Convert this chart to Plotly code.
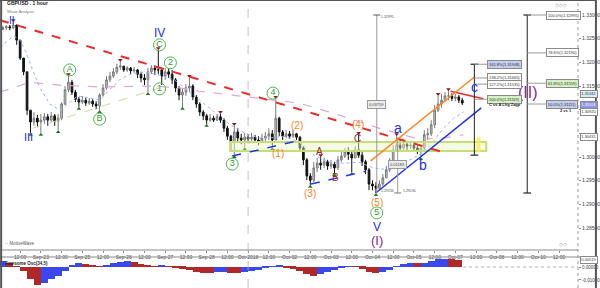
import plotly.graph_objects as go

# ---------------- data ----------------
hours = list(range(-22, 246, 2))          # 2-hour candles, hours from Sep-23 00:00
first_open = 1.3270
closes = [1.3273, 1.3275, 1.3273, 1.3279, 1.3247, 1.3209, 1.3180, 1.3099, 1.3074, 1.3082,
          1.3074, 1.3078, 1.3085, 1.3078, 1.3087, 1.3076, 1.3082, 1.3112, 1.3142, 1.3158,
          1.3137, 1.3122, 1.3116, 1.3120, 1.3114, 1.3118, 1.3112, 1.3108, 1.3131, 1.3146,
          1.3163, 1.3171, 1.3180, 1.3190, 1.3192, 1.3184, 1.3188, 1.3182, 1.3184, 1.3175,
          1.3167, 1.3163, 1.3180, 1.3188, 1.3184, 1.3184, 1.3171, 1.3180, 1.3175, 1.3163,
          1.3146, 1.3131, 1.3137, 1.3146, 1.3150, 1.3127, 1.3112, 1.3095, 1.3087, 1.3078,
          1.3082, 1.3078, 1.3085, 1.3078, 1.3061, 1.3044, 1.3032, 1.3053, 1.3040, 1.3036,
          1.3042, 1.3038, 1.3042, 1.3036, 1.3032, 1.3040, 1.3044, 1.3049, 1.3036, 1.3082,
          1.3053, 1.3044, 1.3049, 1.3044, 1.3049, 1.3042, 1.3019, 1.2994, 1.2960, 1.2951,
          1.2977, 1.2987, 1.2983, 1.2990, 1.2981, 1.2985, 1.2977, 1.2994, 1.3002, 1.3011,
          1.3006, 1.2998, 1.3015, 1.3004, 1.2990, 1.2973, 1.2943, 1.2939, 1.2934, 1.2943,
          1.2956, 1.2973, 1.2990, 1.3015, 1.3025, 1.3019, 1.3027, 1.3023, 1.3025, 1.3019,
          1.3015, 1.3019, 1.3047, 1.3049, 1.3068, 1.3099, 1.3112, 1.3120, 1.3129, 1.3129,
          1.3124, 1.3127, 1.3120, 1.3114]
highs = [1.3277, 1.3279, 1.3279, 1.3285, 1.3279, 1.3247, 1.3209, 1.3180, 1.3099, 1.3095,
         1.3089, 1.3091, 1.3093, 1.3091, 1.3095, 1.3091, 1.3091, 1.3116, 1.3150, 1.3171,
         1.3163, 1.3142, 1.3127, 1.3129, 1.3125, 1.3125, 1.3122, 1.3118, 1.3135, 1.3154,
         1.3171, 1.3180, 1.3188, 1.3197, 1.3201, 1.3192, 1.3192, 1.3190, 1.3190, 1.3186,
         1.3180, 1.3175, 1.3188, 1.3194, 1.3194, 1.3226, 1.3188, 1.3188, 1.3188, 1.3184,
         1.3167, 1.3150, 1.3146, 1.3154, 1.3167, 1.3154, 1.3131, 1.3116, 1.3099, 1.3091,
         1.3091, 1.3087, 1.3091, 1.3091, 1.3082, 1.3066, 1.3047, 1.3066, 1.3061, 1.3049,
         1.3051, 1.3049, 1.3051, 1.3047, 1.3044, 1.3049, 1.3053, 1.3061, 1.3057, 1.3123,
         1.3085, 1.3057, 1.3057, 1.3055, 1.3057, 1.3051, 1.3044, 1.3023, 1.2998, 1.2966,
         1.2990, 1.2998, 1.3000, 1.2998, 1.2994, 1.2994, 1.2990, 1.3002, 1.3015, 1.3019,
         1.3021, 1.3015, 1.3023, 1.3047, 1.3011, 1.2994, 1.2977, 1.2951, 1.2947, 1.2951,
         1.2964, 1.2981, 1.2998, 1.3025, 1.3044, 1.3036, 1.3036, 1.3034, 1.3034, 1.3030,
         1.3025, 1.3027, 1.3057, 1.3061, 1.3078, 1.3110, 1.3129, 1.3133, 1.3137, 1.3139,
         1.3135, 1.3133, 1.3131, 1.3125]
lows = [1.3268, 1.3268, 1.3268, 1.3270, 1.3237, 1.3205, 1.3173, 1.3089, 1.3051, 1.3066,
        1.3063, 1.3051, 1.3070, 1.3066, 1.3074, 1.3066, 1.3057, 1.3078, 1.3110, 1.3137,
        1.3131, 1.3116, 1.3106, 1.3112, 1.3108, 1.3110, 1.3106, 1.3101, 1.3099, 1.3129,
        1.3142, 1.3158, 1.3167, 1.3175, 1.3184, 1.3180, 1.3180, 1.3175, 1.3178, 1.3167,
        1.3158, 1.3152, 1.3137, 1.3175, 1.3173, 1.3175, 1.3152, 1.3163, 1.3167, 1.3154,
        1.3137, 1.3120, 1.3106, 1.3129, 1.3137, 1.3120, 1.3104, 1.3087, 1.3078, 1.3070,
        1.3074, 1.3074, 1.3076, 1.3072, 1.3053, 1.3036, 1.3015, 1.3004, 1.3032, 1.3027,
        1.3021, 1.3030, 1.3034, 1.3030, 1.3025, 1.3030, 1.3034, 1.3036, 1.3021, 1.3036,
        1.3044, 1.3036, 1.3040, 1.3038, 1.3040, 1.3036, 1.3011, 1.2983, 1.2951, 1.2941,
        1.2947, 1.2968, 1.2973, 1.2977, 1.2973, 1.2975, 1.2966, 1.2973, 1.2990, 1.2998,
        1.2994, 1.2968, 1.2998, 1.2998, 1.2981, 1.2964, 1.2930, 1.2930, 1.2924, 1.2930,
        1.2939, 1.2956, 1.2968, 1.2985, 1.3011, 1.3011, 1.3015, 1.3015, 1.3017, 1.3011,
        1.3006, 1.3000, 1.3015, 1.3036, 1.3044, 1.3061, 1.3095, 1.3104, 1.3116, 1.3120,
        1.3118, 1.3118, 1.3114, 1.3110]
opens = [first_open] + closes[:-1]

fractal_high_idx = [3, 19, 34, 45, 54, 63, 67, 79, 92, 103, 114, 126, 129]
fractal_low_idx = [8, 11, 16, 22, 28, 42, 52, 59, 67, 70, 78, 89, 96, 101, 108, 121]

# moving averages
ma_fast_h = [-23.7, -19.0, -15.6, -12.1, -8.7, -5.2, -0.6, 5.2, 10.9, 15.6, 21.3, 28.3, 34.0,
             39.8, 45.6, 51.4, 60.0, 68.7, 77.3, 83.1, 91.8, 100.4, 109.1, 117.7, 126.4, 132.1,
             140.8, 149.5, 158.1, 166.8, 175.4, 184.1, 192.7, 201.4, 210.0, 218.7, 225.6, 233.1,
             238.9, 244.7]
ma_fast_p = [1.3232, 1.3247, 1.3256, 1.3247, 1.3222, 1.3188, 1.3146, 1.3112, 1.3099, 1.3112,
             1.3129, 1.3125, 1.3120, 1.3142, 1.3163, 1.3175, 1.3180, 1.3173, 1.3163, 1.3146,
             1.3120, 1.3095, 1.3070, 1.3051, 1.3040, 1.3040, 1.3044, 1.3032, 1.3004, 1.2989,
             1.2987, 1.2989, 1.2977, 1.2973, 1.2987, 1.3004, 1.3025, 1.3061, 1.3082, 1.3095]
ma_slow_h = [-23.7, -6.3, 11.0, 34.0, 62.9, 80.2, 91.8, 120.6, 149.5, 172.5, 195.6, 218.7,
             233.1, 244.7]
ma_slow_p = [1.3137, 1.3158, 1.3152, 1.3148, 1.3150, 1.3146, 1.3139, 1.3127, 1.3114, 1.3089,
             1.3061, 1.3038, 1.3040, 1.3047]
ma_mid_h = [-4.6, 68.7]
ma_mid_p = [1.3061, 1.3146]

# Awesome oscillator (4-hour samples)
osc_hours = list(range(-22, 246, 4))
osc_vals = [0.0045, 0.0030, 0.0005, -0.0030, -0.0090, -0.0135, -0.0120, -0.0095, -0.0070, -0.0030,
            0.0015, 0.0030, 0.0025, 0.0015, 0.0003, 0.0015, 0.0030, 0.0040, 0.0045, 0.0035,
            0.0020, 0.0010, 0.0003, 0.0008, 0.0002, -0.0008, -0.0015, -0.0025, -0.0035, -0.0048,
            -0.0050, -0.0040, -0.0038, -0.0048, -0.0050, -0.0042, -0.0030, -0.0025, -0.0010, 0.0006,
            0.0008, -0.0003, -0.0015, -0.0030, -0.0055, -0.0068, -0.0055, -0.0035, -0.0020, -0.0005,
            0.0005, 0.0002, -0.0012, -0.0035, -0.0046, -0.0038, -0.0020, 0.0005, 0.0025, 0.0030,
            0.0028, 0.0032, 0.0045, 0.0058, 0.0063, 0.0062, 0.0052]

day_labels = ["Sep-23", "Sep-25", "Sep-26", "Sep-27", "Sep-28", "Oct-2018", "Oct-02",
              "Oct-03", "Oct-04", "Oct-05", "Oct-07", "Oct-08", "Oct-10"]
price_ticks = [1.285, 1.290, 1.295, 1.300, 1.305, 1.310, 1.315, 1.320, 1.325, 1.330]
# tick labels hidden behind the value boxes in the reference
price_tick_text = ["1.28500", "1.29000", "1.29500", "1.30000", "", "", "1.31500",
                   "1.32000", "1.32500", "1.33000"]

# wave labels: (text, hour, price)
blue_roman = [("II", -16.7, 1.3288, 10), ("III", -6.9, 1.3042, 11), ("IV", 68.7, 1.3262, 12),
              ("V", 194.5, 1.2852, 12)]
blue_abc = [("a", 206.6, 1.3061), ("b", 221.0, 1.2983), ("c", 251.0, 1.3148)]
purple = [("(I)", 194.5, 1.2823, 13), ("(II)", 282.2, 1.3137, 16)]
green_circ = [("A", 16.7, 1.3184), ("B", 34.0, 1.3080), ("C", 68.7, 1.3237), ("1", 68.7, 1.3144),
              ("2", 75.0, 1.3199), ("3", 110.8, 1.2985), ("4", 134.4, 1.3135), ("5", 194.5, 1.2882)]
orange_lbl = [("(1)", 137.3, 1.3008), ("(2)", 148.3, 1.3066), ("(3)", 155.8, 1.2924),
              ("(4)", 183.5, 1.3068), ("(5)", 194.5, 1.2905)]
red_lbl = [("A", 161.6, 1.3011), ("B", 170.8, 1.2956), ("C", 183.5, 1.3040)]

# fibonacci tools
fib_c_levels = [1.3196, 1.3167, 1.3154, 1.3122]
fib_c_text = ["161.8%(1.31948)", "138.2%(1.31665)", "127.2%(1.31535)", "100.0%(1.31119)"]
fib_c_fill = ["#c5cdf0", "#ffffff", "#ffffff", "#d4f0c4"]
fib_big_levels = [1.3300, 1.3220, 1.3156, 1.3112]
fib_big_text = ["100.0%(1.32995)", "78.6%(1.32190)", "61.8%(1.31559)", "50.0%(1.31111)"]
fib_big_fill = ["#ffffff", "#ffffff", "#d4f0c4", "#c5cdf0"]

# right-axis value boxes
axis_box_vals = [1.31341, 1.31106, 1.30950, 1.30431]
axis_box_text = ["1.31341", "1.31106", "1.30920", "1.30431"]
axis_box_fill = ["#d7ecf5", "#8c98e6", "#ffffff", "#ffffff"]
axis_box_font = ["#333333", "#ffffff", "#333333", "#333333"]

# ---------------- figure ----------------
FONT = "Liberation Sans, Arial, sans-serif"
fig = go.Figure()

fig.add_trace(go.Candlestick(
    x=hours, open=opens, high=highs, low=lows, close=closes,
    increasing=dict(line=dict(color="#7a7a7a", width=1), fillcolor="#c8c8c8"),
    decreasing=dict(line=dict(color="#111111", width=1), fillcolor="#111111"),
    whiskerwidth=0, showlegend=False, hoverinfo="skip", xaxis="x", yaxis="y"))

fig.add_trace(go.Scatter(x=ma_fast_h, y=ma_fast_p, mode="lines", line=dict(color="#9ab4f2", width=1, dash="dot"),
                         showlegend=False, hoverinfo="skip"))
fig.add_trace(go.Scatter(x=ma_slow_h, y=ma_slow_p, mode="lines", line=dict(color="#dca6d6", width=1.2, dash="dash"),
                         showlegend=False, hoverinfo="skip"))
fig.add_trace(go.Scatter(x=ma_mid_h, y=ma_mid_p, mode="lines", line=dict(color="#d8d4a4", width=1, dash="dash"),
                         showlegend=False, hoverinfo="skip"))

# fractal markers
fig.add_trace(go.Scatter(x=[hours[i] for i in fractal_high_idx], y=[highs[i] + 0.0004 for i in fractal_high_idx],
                         mode="markers", marker=dict(symbol="triangle-down", size=4, color="#8b1c1c"),
                         showlegend=False, hoverinfo="skip"))
fig.add_trace(go.Scatter(x=[hours[i] for i in fractal_low_idx], y=[lows[i] - 0.0004 for i in fractal_low_idx],
                         mode="markers", marker=dict(symbol="triangle-up", size=4, color="#1d7a1d"),
                         showlegend=False, hoverinfo="skip"))

# green circled labels
fig.add_trace(go.Scatter(x=[g[1] for g in green_circ], y=[g[2] for g in green_circ],
                         mode="markers+text", text=[g[0] for g in green_circ], textposition="middle center",
                         textfont=dict(family=FONT, size=9, color="#2f9a2f"),
                         marker=dict(symbol="circle-open", size=12, color="#4cb84c", line=dict(width=1)),
                         showlegend=False, hoverinfo="skip"))

# oscillator
osc_colors = []
for k, v in enumerate(osc_vals):
    if k == 0 or v >= osc_vals[k - 1]:
        osc_colors.append("#3a48f0")
    else:
        osc_colors.append("#b02828")
fig.add_trace(go.Bar(x=osc_hours, y=osc_vals, marker=dict(color=osc_colors, line=dict(width=0)),
                     width=4, xaxis="x2", yaxis="y2", showlegend=False, hoverinfo="skip"))

shapes = []
def line(x0, y0, x1, y1, color, width=1, dash="solid", xref="x", yref="y"):
    shapes.append(dict(type="line", x0=x0, y0=y0, x1=x1, y1=y1, xref=xref, yref=yref,
                       line=dict(color=color, width=width, dash=dash)))

# rectangle zone and yellow bar
shapes.append(dict(type="rect", x0=109.6, x1=257.9, y0=1.3013, y1=1.3032, xref="x", yref="y",
                   line=dict(color="#c4df78", width=2), fillcolor="rgba(236,246,196,0.45)"))
shapes.append(dict(type="rect", x0=252.2, x1=254.6, y0=1.3010, y1=1.3042, xref="x", yref="y",
                   line=dict(width=0), fillcolor="rgba(246,240,90,0.85)"))

# trend lines
line(-23.66, 1.3289, 234.9, 1.3008, "#ee2b2b", 2, "dash")
line(237.2, 1.3139, 256.2, 1.3123, "#ee2b2b", 1.5)
line(191.0, 1.2992, 251.0, 1.3169, "#ff8424", 1.5)
line(193.9, 1.2924, 255.0, 1.3104, "#2233ee", 1.5)
line(110.8, 1.3002, 150.6, 1.3036, "#2233ee", 1.5, "dash")
line(156.4, 1.2943, 188.1, 1.2970, "#2233ee", 1.5, "dash")

# measurement verticals
line(194.5, 1.3300, 194.5, 1.2924, "#9a9a9a", 1)
line(192.5, 1.3300, 196.5, 1.3300, "#555555", 1)
line(206.6, 1.3036, 206.6, 1.2924, "#9a9a9a", 1)
line(204.6, 1.2924, 208.6, 1.2924, "#777777", 1)

# fib c
line(251.0, fib_c_levels[0], 251.0, 1.3004, "#222222", 1)
line(248.8, fib_c_levels[0], 253.2, fib_c_levels[0], "#222222", 1.2)
line(248.8, 1.3004, 253.2, 1.3004, "#222222", 1.2)
for lv in fib_c_levels:
    line(251.0, lv, 258.5, lv, "#9a9a9a", 1)
# big fib
line(281.6, fib_big_levels[0], 281.6, 1.2924, "#222222", 1)
line(279.4, fib_big_levels[0], 283.8, fib_big_levels[0], "#222222", 1.2)
line(279.4, 1.2924, 283.8, 1.2924, "#222222", 1.2)
for lv in fib_big_levels:
    line(281.6, lv, 292.6, lv, "#9a9a9a", 1)

# vertical dashed day separator, axis lines, frame
line(120, 0, 120, 1, "#b4b4b4", 0.8, "dash", yref="paper")
line(1, 0, 1, 1, "#9a9a9a", 1, "dot", xref="paper", yref="paper")
line(244.5, 0, 311, 0, "#b0b0b0", 1, "dot", yref="y2")
line(0, 0.1076, 1.031, 0.1076, "#8a8a8a", 1, xref="paper", yref="paper")
line(0, 0.1319, 1, 0.1319, "#8a8a8a", 1, xref="paper", yref="paper")
line(0.002, 0, 0.002, 1, "#555555", 2, xref="paper", yref="paper")
line(1.031, 0, 1.031, 1, "#555555", 2, xref="paper", yref="paper")
line(0, 0.999, 1.031, 0.999, "#555555", 1.5, xref="paper", yref="paper")

annotations = []
def txt(x, y, s, size, color, xref="x", yref="y", xanchor="center", yanchor="middle", **kw):
    annotations.append(dict(x=x, y=y, text=s, xref=xref, yref=yref, xanchor=xanchor, yanchor=yanchor,
                            showarrow=False, font=dict(family=FONT, size=size, color=color), **kw))

for s, h, p, sz in blue_roman:
    txt(h, p, s, sz, "#2430e8")
for s, h, p in blue_abc:
    txt(h, p, s, 14, "#2430e8")
for s, h, p, sz in purple:
    txt(h, p, s, sz, "#8a2a8a")
for s, h, p in orange_lbl:
    txt(h, p, s, 10, "#ff8424")
for s, h, p in red_lbl:
    txt(h, p, s, 10, "#a02a2a")

for lv, s, fc in zip(fib_c_levels, fib_c_text, fib_c_fill):
    txt(258.5, lv, s, 4, "#333333", xanchor="left", bgcolor=fc, bordercolor="#8a8a8a", borderwidth=1, borderpad=1)
txt(258.5, 1.3110, "<b>C vs A Lfig Zagp</b>", 4, "#222222", xanchor="left")
for lv, s, fc in zip(fib_big_levels, fib_big_text, fib_big_fill):
    txt(292.6, lv, s, 4, "#333333", xanchor="left", bgcolor=fc, bordercolor="#8a8a8a", borderwidth=1, borderpad=1)
txt(304.0, 1.3099, "<b>2 vs 1</b>", 4, "#222222")

txt(194.5, 1.3110, "0.03759", 4, "#444444", bgcolor="#ececec", bordercolor="#9a9a9a", borderwidth=1, borderpad=1)
txt(206.6, 1.2985, "0.01183", 4, "#444444", bgcolor="#ececec", bordercolor="#9a9a9a", borderwidth=1, borderpad=1)
txt(196.0, 1.3296, "1.32995", 3.5, "#555555", xanchor="left")
txt(196.0, 1.2928, "1.29236", 3.5, "#555555", xanchor="left")
txt(208.5, 1.2928, "1.29236", 3.5, "#555555", xanchor="left")

# right-axis value boxes
for p, s, fc, fcol in zip(axis_box_vals, axis_box_text, axis_box_fill, axis_box_font):
    txt(1.004, p, s, 4, fcol, xref="paper", xanchor="left", bgcolor=fc, bordercolor="#8a8a8a",
        borderwidth=1, borderpad=0.3)
txt(1.004, 0.0052, "0.00519", 4, "#333333", xref="paper", yref="y2", xanchor="left",
    bgcolor="#ffffff", bordercolor="#8a8a8a", borderwidth=1, borderpad=0.3)

# header/footer texts
txt(0.008, 0.988, "<b>GBPUSD . 1 hour</b>", 5, "#222222", xref="paper", yref="paper", xanchor="left")
txt(0.008, 0.960, "Wave Analysis", 4.2, "#777777", xref="paper", yref="paper", xanchor="left")
txt(0.005, 0.156, "◦◦ MotiveWave", 4.5, "#555555", xref="paper", yref="paper", xanchor="left")
txt(0.005, 0.086, "<b>Awesome Osc(34,5)</b>", 4.5, "#222222", xref="paper", yref="paper", xanchor="left")
txt(0.985, 0.983, "◇◇◇", 5, "#9a9a9a", xref="paper", yref="paper", xanchor="right")
txt(0.985, 0.152, "◇◇", 5, "#9a9a9a", xref="paper", yref="paper", xanchor="right")

tickvals, ticktext = [], []
for d, lab in enumerate(day_labels):
    tickvals += [24 * d - 12, 24 * d]
    ticktext += ["12:00", lab]
tickvals.append(300)
ticktext.append("12:00")

fig.update_layout(
    width=600, height=288, margin=dict(l=0, r=20, t=0, b=0),
    paper_bgcolor="white", plot_bgcolor="white", showlegend=False, bargap=0,
    font=dict(family=FONT),
    xaxis=dict(domain=[0, 1], anchor="y", range=[-23.66, 311.0], tickvals=tickvals, ticktext=ticktext,
               tickfont=dict(size=5, color="#444444"), ticks="outside", ticklen=2, tickcolor="#888888",
               showgrid=False, zeroline=False, showline=False, rangeslider=dict(visible=False)),
    yaxis=dict(domain=[0.1319, 1], range=[1.28036, 1.33317], side="right", tickvals=price_ticks,
               ticktext=price_tick_text, tickfont=dict(size=5, color="#444444"),
               ticks="outside", ticklen=2, tickcolor="#888888", showgrid=False, zeroline=False),
    xaxis2=dict(domain=[0, 1], anchor="y2", range=[-23.66, 311.0], showticklabels=False, ticks="",
                showgrid=False, zeroline=False),
    yaxis2=dict(domain=[0.0035, 0.1076], range=[-0.0154, 0.0077], side="right", tickvals=[0, -0.01],
                ticktext=["0.00000", "-0.01000"], tickfont=dict(size=4.5, color="#444444"),
                ticks="outside", ticklen=2, tickcolor="#888888", showgrid=False, zeroline=False),
    shapes=shapes, annotations=annotations,
)

fig.write_html("out.html")
